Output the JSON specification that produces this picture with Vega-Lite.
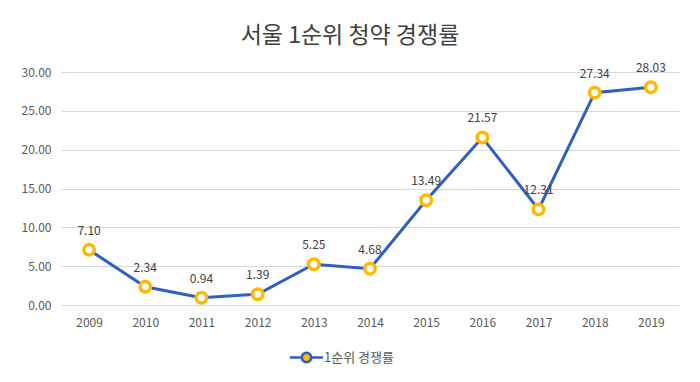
{
  "$schema": "https://vega.github.io/schema/vega-lite/v6.json",
  "width": 618,
  "height": 233,
  "padding": {"left": 21, "top": 25, "right": 17, "bottom": 10},
  "background": "white",
  "title": {
    "text": "서울 1순위 청약 경쟁률",
    "font": "Noto Sans CJK KR",
    "fontSize": 23,
    "fontWeight": "normal",
    "color": "#404040",
    "anchor": "middle",
    "frame": "bounds",
    "offset": 14
  },
  "data": {
    "values": [
      {"year": "2009", "rate": 7.10},
      {"year": "2010", "rate": 2.34},
      {"year": "2011", "rate": 0.94},
      {"year": "2012", "rate": 1.39},
      {"year": "2013", "rate": 5.25},
      {"year": "2014", "rate": 4.68},
      {"year": "2015", "rate": 13.49},
      {"year": "2016", "rate": 21.57},
      {"year": "2017", "rate": 12.31},
      {"year": "2018", "rate": 27.34},
      {"year": "2019", "rate": 28.03}
    ]
  },
  "encoding": {
    "x": {
      "field": "year", "type": "ordinal", "title": null,
      "scale": {"paddingInner": 0, "paddingOuter": 0.5},
      "axis": {"labelAngle": 0, "domain": false, "ticks": false, "grid": false, "labelPadding": 12, "labelFontSize": 12, "labelColor": "#595959", "labelFont": "Noto Sans CJK KR"}
    },
    "y": {
      "field": "rate", "type": "quantitative", "title": null,
      "scale": {"domain": [0, 30]},
      "axis": {"values": [0, 5, 10, 15, 20, 25, 30], "format": ".2f", "domain": false, "ticks": false, "gridColor": "#D9D9D9", "labelPadding": 10, "labelFontSize": 12, "labelColor": "#595959", "labelFont": "Noto Sans CJK KR"}
    }
  },
  "layer": [
    {
      "mark": {"type": "line", "strokeWidth": 3},
      "encoding": {
        "color": {
          "datum": "1순위 경쟁률",
          "scale": {"range": ["#2F5FBF"]},
          "legend": {
            "title": null,
            "orient": "none",
            "legendX": 232,
            "legendY": 272,
            "symbolType": "M-1.4,0L-0.4,0M0.4,0L1.4,0M-0.4,0A0.4,0.4 0 1,0 0.4,0A0.4,0.4 0 1,0 -0.4,0Z",
            "symbolSize": 560,
            "symbolStrokeWidth": 2.5,
            "symbolFillColor": "#FFB900",
            "labelFontSize": 13,
            "labelColor": "#595959",
            "labelFont": "Noto Sans CJK KR",
            "labelOffset": 4
          }
        }
      }
    },
    {
      "mark": {"type": "point", "filled": true, "fill": "white", "stroke": "#FFB900", "strokeWidth": 3.5, "size": 110, "opacity": 1}
    },
    {
      "mark": {"type": "text", "dy": -19, "fontSize": 12, "color": "#404040", "font": "Noto Sans CJK KR"},
      "encoding": {"text": {"field": "rate", "type": "quantitative", "format": ".2f"}}
    }
  ],
  "config": {
    "view": {"stroke": null}
  }
}
